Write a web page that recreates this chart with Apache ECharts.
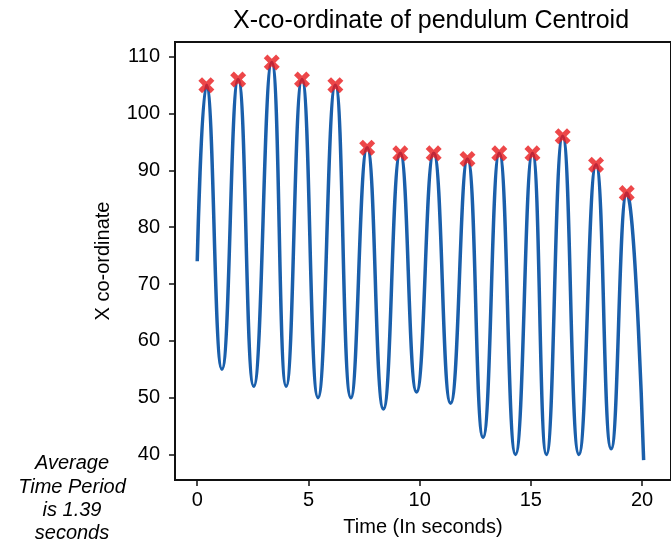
<!DOCTYPE html>
<html>
<head>
<meta charset="utf-8">
<script src="https://cdn.jsdelivr.net/npm/echarts@6/dist/echarts.min.js"></script>
<style>html,body{margin:0;padding:0;background:#fff}#c{width:671px;height:546px}</style>
</head>
<body>
<div id="c"></div>
<script>
// Curve samples (time in s, X co-ordinate)
const curveTimes = [0.0, 0.41, 1.11, 1.84, 2.54, 3.35, 4.00, 4.71, 5.43, 6.21, 6.91, 7.64, 8.37, 9.13, 9.86, 10.63, 11.39, 12.15, 12.85, 13.58, 14.31, 15.07, 15.70, 16.43, 17.16, 17.93, 18.61, 19.31, 20.07];
const curveValues = [74, 105, 55, 106, 52, 109, 52, 106, 50, 105, 50, 94, 48, 93, 51, 93, 49, 92, 43, 93, 40, 93, 40, 96, 40, 91, 41, 86, 39];
// Detected peaks (red X markers)
const peakTimes = [0.41, 1.84, 3.35, 4.71, 6.21, 7.64, 9.13, 10.63, 12.15, 13.58, 15.07, 16.43, 17.93, 19.31];
const peakValues = [105, 106, 109, 106, 105, 94, 93, 93, 92, 93, 93, 96, 91, 86];
const xTicks = [0, 5, 10, 15, 20];
const yTicks = [40, 50, 60, 70, 80, 90, 100, 110];

const FONT = 'Liberation Sans, Arial, Helvetica, sans-serif';
const chart = echarts.init(document.getElementById('c'), null, {renderer: 'canvas'});
const xMarker = 'path://M2.3,0 L5,2.7 L7.7,0 L10,2.3 L7.3,5 L10,7.7 L7.7,10 L5,7.3 L2.3,10 L0,7.7 L2.7,5 L0,2.3 Z';

chart.setOption({
  animation: false,
  backgroundColor: '#fff',
  title: {
    text: 'X-co-ordinate of pendulum Centroid',
    left: 228, top: 4,
    textStyle: {fontFamily: FONT, fontSize: 25, fontWeight: 'normal', color: '#000'}
  },
  grid: {left: 175, right: -14, top: 42, bottom: 66, show: true, borderColor: '#111', borderWidth: 2, containLabel: false},
  xAxis: {
    type: 'value', min: -1.0, max: 21.3,
    name: 'Time (In seconds)', nameLocation: 'middle', nameGap: 37,
    nameTextStyle: {fontFamily: FONT, fontSize: 20, color: '#000'},
    axisLine: {show: true, onZero: false, lineStyle: {color: '#111', width: 2}},
    axisTick: {show: true, length: 6, lineStyle: {color: '#111', width: 1.5}, customValues: xTicks},
    axisLabel: {fontFamily: FONT, fontSize: 20, color: '#000', margin: 10, customValues: xTicks},
    splitLine: {show: false}
  },
  yAxis: {
    type: 'value', min: 35.5, max: 112.6,
    name: 'X co-ordinate', nameLocation: 'middle', nameGap: 62, nameRotate: 90,
    nameTextStyle: {fontFamily: FONT, fontSize: 20, color: '#000'},
    axisLine: {show: true, onZero: false, lineStyle: {color: '#111', width: 2}},
    axisTick: {show: true, length: 6, lineStyle: {color: '#111', width: 1.5}, customValues: yTicks},
    axisLabel: {fontFamily: FONT, fontSize: 20, color: '#000', margin: 15, customValues: yTicks},
    splitLine: {show: false}
  },
  graphic: [{
    type: 'text', x: 72, y: 452,
    style: {
      text: 'Average\nTime Period\nis 1.39\nseconds',
      font: 'italic 20px ' + FONT, fill: '#000', align: 'center', verticalAlign: 'top', lineHeight: 23.3
    }
  }],
  series: [{
    type: 'line',
    data: curveTimes.map((t, i) => [t, curveValues[i]]),
    smooth: 0.5,
    showSymbol: false,
    lineStyle: {color: '#1a5fab', width: 3.5},
    z: 2
  }, {
    type: 'scatter',
    data: peakTimes.map((t, i) => [t, peakValues[i]]),
    symbol: xMarker,
    symbolSize: 16,
    itemStyle: {color: '#e8191c'},
    z: 3
  }]
});
</script>
</body>
</html>
